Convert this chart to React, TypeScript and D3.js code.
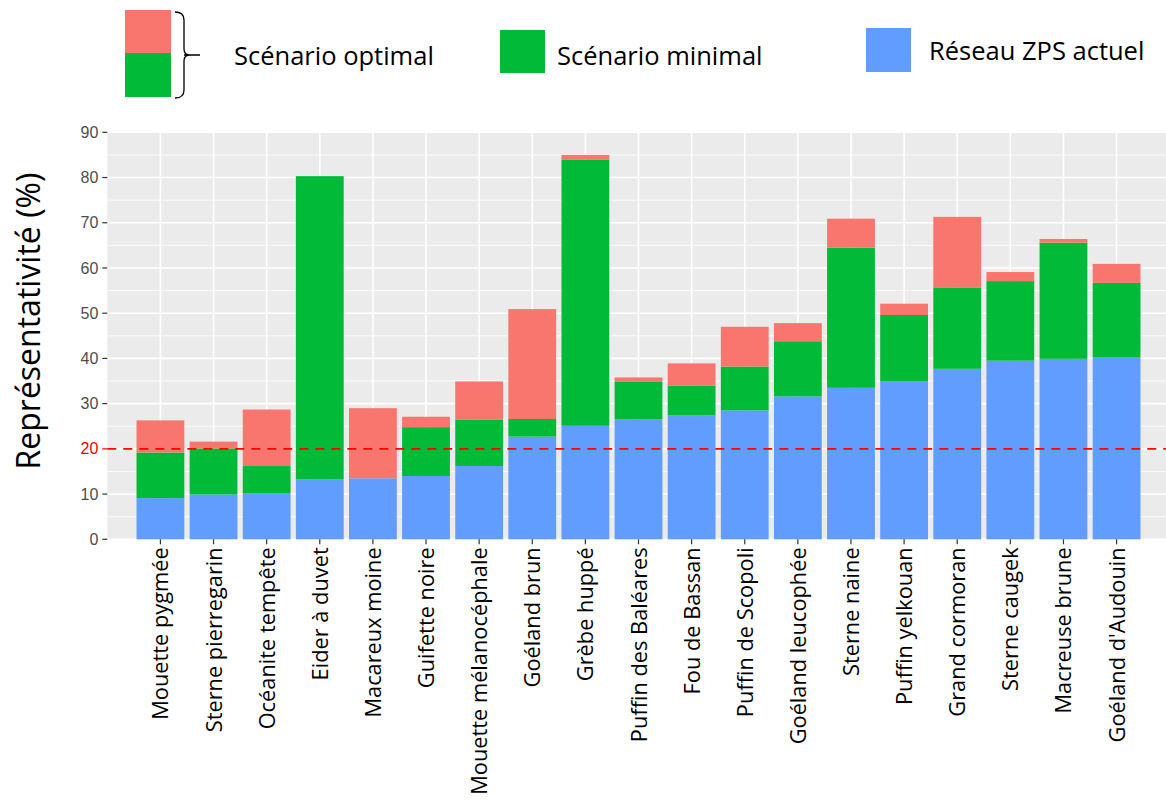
import React, { useEffect, useRef } from 'react';
import * as d3 from 'd3';

// species, in the order of the x axis
const species = [
  'Mouette pygmée', 'Sterne pierregarin', 'Océanite tempête', 'Eider à duvet',
  'Macareux moine', 'Guifette noire', 'Mouette mélanocéphale', 'Goéland brun',
  'Grèbe huppé', 'Puffin des Baléares', 'Fou de Bassan', 'Puffin de Scopoli',
  'Goéland leucophée', 'Sterne naine', 'Puffin yelkouan', 'Grand cormoran',
  'Sterne caugek', 'Macreuse brune', "Goéland d'Audouin",
];

// cumulative tops of each stacked segment (%)
const reseauActuel = [9.1, 9.9, 10.2, 13.3, 13.5, 14.0, 16.2, 22.7, 25.1, 26.5, 27.4, 28.5, 31.6, 33.5, 34.9, 37.7, 39.5, 39.9, 40.3];
const scenarioMinimal = [19.2, 20.1, 16.2, 80.3, 13.5, 24.8, 26.5, 26.6, 84.0, 34.8, 34.0, 38.2, 43.8, 64.5, 49.6, 55.7, 57.1, 65.6, 56.7];
const scenarioOptimal = [26.3, 21.6, 28.7, 80.3, 29.0, 27.1, 34.9, 50.9, 85.0, 35.8, 38.9, 47.0, 47.8, 70.9, 52.1, 71.3, 59.1, 66.4, 60.9];

const yTicks = [0, 10, 20, 30, 40, 50, 60, 70, 80, 90];
const threshold = 20;

const COLORS = { optimal: '#F8766D', minimal: '#00BA38', actuel: '#619CFF' };

const W = 1166;
const H = 801;

const App: React.FC = () => {
  const svgRef = useRef<SVGSVGElement>(null);

  useEffect(() => {
    if (!svgRef.current) return;
    const svg = d3.select(svgRef.current);
    svg.selectAll('*').remove();

    const panel = { left: 107.3, right: 1169.7, top: 132.3, bottom: 539.3 };

    const x = d3.scaleBand<string>()
      .domain(species)
      .range([panel.left, panel.right])
      .paddingInner(0.1)
      .paddingOuter(0.55);

    const y = d3.scaleLinear().domain([0, 90]).range([panel.bottom, panel.top]);

    // panel background
    svg.append('rect')
      .attr('x', panel.left).attr('y', panel.top)
      .attr('width', panel.right - panel.left)
      .attr('height', panel.bottom - panel.top)
      .attr('fill', '#EBEBEB');

    // grid
    const minor = d3.range(5, 90, 10);
    svg.append('g').selectAll('line').data(minor).enter().append('line')
      .attr('x1', panel.left).attr('x2', panel.right)
      .attr('y1', d => y(d)).attr('y2', d => y(d))
      .attr('stroke', '#fff').attr('stroke-width', 0.8);
    svg.append('g').selectAll('line').data(yTicks).enter().append('line')
      .attr('x1', panel.left).attr('x2', panel.right)
      .attr('y1', d => y(d)).attr('y2', d => y(d))
      .attr('stroke', '#fff').attr('stroke-width', 1.6);
    svg.append('g').selectAll('line').data(species).enter().append('line')
      .attr('x1', d => x(d)! + x.bandwidth() / 2).attr('x2', d => x(d)! + x.bandwidth() / 2)
      .attr('y1', panel.top).attr('y2', panel.bottom)
      .attr('stroke', '#fff').attr('stroke-width', 1.6);

    // stacked bars
    const segs = species.flatMap((s, i) => [
      { s, y0: 0, y1: reseauActuel[i], c: COLORS.actuel },
      { s, y0: reseauActuel[i], y1: scenarioMinimal[i], c: COLORS.minimal },
      { s, y0: scenarioMinimal[i], y1: scenarioOptimal[i], c: COLORS.optimal },
    ]).filter(d => d.y1 > d.y0);

    svg.append('g').selectAll('rect').data(segs).enter().append('rect')
      .attr('x', d => x(d.s)!)
      .attr('width', x.bandwidth())
      .attr('y', d => y(d.y1))
      .attr('height', d => y(d.y0) - y(d.y1))
      .attr('fill', d => d.c);

    // threshold line
    svg.append('line')
      .attr('x1', panel.left).attr('x2', panel.right)
      .attr('y1', y(threshold)).attr('y2', y(threshold))
      .attr('stroke', '#FF0000').attr('stroke-width', 1.6)
      .attr('stroke-dasharray', '9,7');

    // y axis
    const ya = svg.append('g');
    ya.selectAll('line').data(yTicks).enter().append('line')
      .attr('x1', panel.left - 5).attr('x2', panel.left)
      .attr('y1', d => y(d)).attr('y2', d => y(d))
      .attr('stroke', d => d === threshold ? '#FF0000' : '#333')
      .attr('stroke-width', 1.2);
    ya.selectAll('text').data(yTicks).enter().append('text')
      .attr('x', panel.left - 9)
      .attr('y', d => y(d))
      .attr('dy', '0.35em')
      .attr('text-anchor', 'end')
      .style('font-family', 'Liberation Sans, Arial, sans-serif')
      .style('font-size', '16px')
      .attr('fill', d => d === threshold ? '#FF0000' : '#4D4D4D')
      .text(d => d);

    svg.append('text')
      .attr('transform', `translate(40, 321) rotate(-90)`)
      .attr('text-anchor', 'middle')
      .style('font-family', 'Open Sans, sans-serif')
      .style('font-size', '32px')
      .attr('fill', '#000')
      .text('Représentativité (%)');

    // x axis
    const xa = svg.append('g');
    xa.selectAll('line').data(species).enter().append('line')
      .attr('x1', d => x(d)! + x.bandwidth() / 2).attr('x2', d => x(d)! + x.bandwidth() / 2)
      .attr('y1', panel.bottom).attr('y2', panel.bottom + 5)
      .attr('stroke', '#333').attr('stroke-width', 1.2);
    xa.selectAll('text').data(species).enter().append('text')
      .attr('transform', d => `translate(${x(d)! + x.bandwidth() / 2 + 8}, ${panel.bottom + 8}) rotate(-90)`)
      .attr('text-anchor', 'end')
      .style('font-family', 'Open Sans, sans-serif')
      .style('font-size', '21.8px')
      .attr('fill', '#000')
      .text(d => d);

    // legend
    const lg = svg.append('g').style('font-family', 'Open Sans, sans-serif').style('font-size', '25.5px');
    lg.append('rect').attr('x', 125).attr('y', 10).attr('width', 46).attr('height', 43).attr('fill', COLORS.optimal);
    lg.append('rect').attr('x', 125).attr('y', 53).attr('width', 46).attr('height', 44).attr('fill', COLORS.minimal);
    lg.append('path')
      .attr('d', 'M175,12 Q184,12 184,20 L184,49 Q184,55 190,55 Q184,55 184,61 L184,90 Q184,98 175,98 M184,55 L200,55')
      .attr('fill', 'none').attr('stroke', '#000').attr('stroke-width', 1.3);
    lg.append('text').attr('x', 234).attr('y', 65).text('Scénario optimal');
    lg.append('rect').attr('x', 500).attr('y', 30).attr('width', 45).attr('height', 43).attr('fill', COLORS.minimal);
    lg.append('text').attr('x', 557).attr('y', 65).text('Scénario minimal');
    lg.append('rect').attr('x', 866).attr('y', 28).attr('width', 45).attr('height', 44).attr('fill', COLORS.actuel);
    lg.append('text').attr('x', 929).attr('y', 60).text('Réseau ZPS actuel');
  }, []);

  return (
    <svg
      ref={svgRef}
      width={W}
      height={H}
      style={{ position: 'absolute', left: 0, top: 0, background: '#fff' }}
    />
  );
};

export default App;
